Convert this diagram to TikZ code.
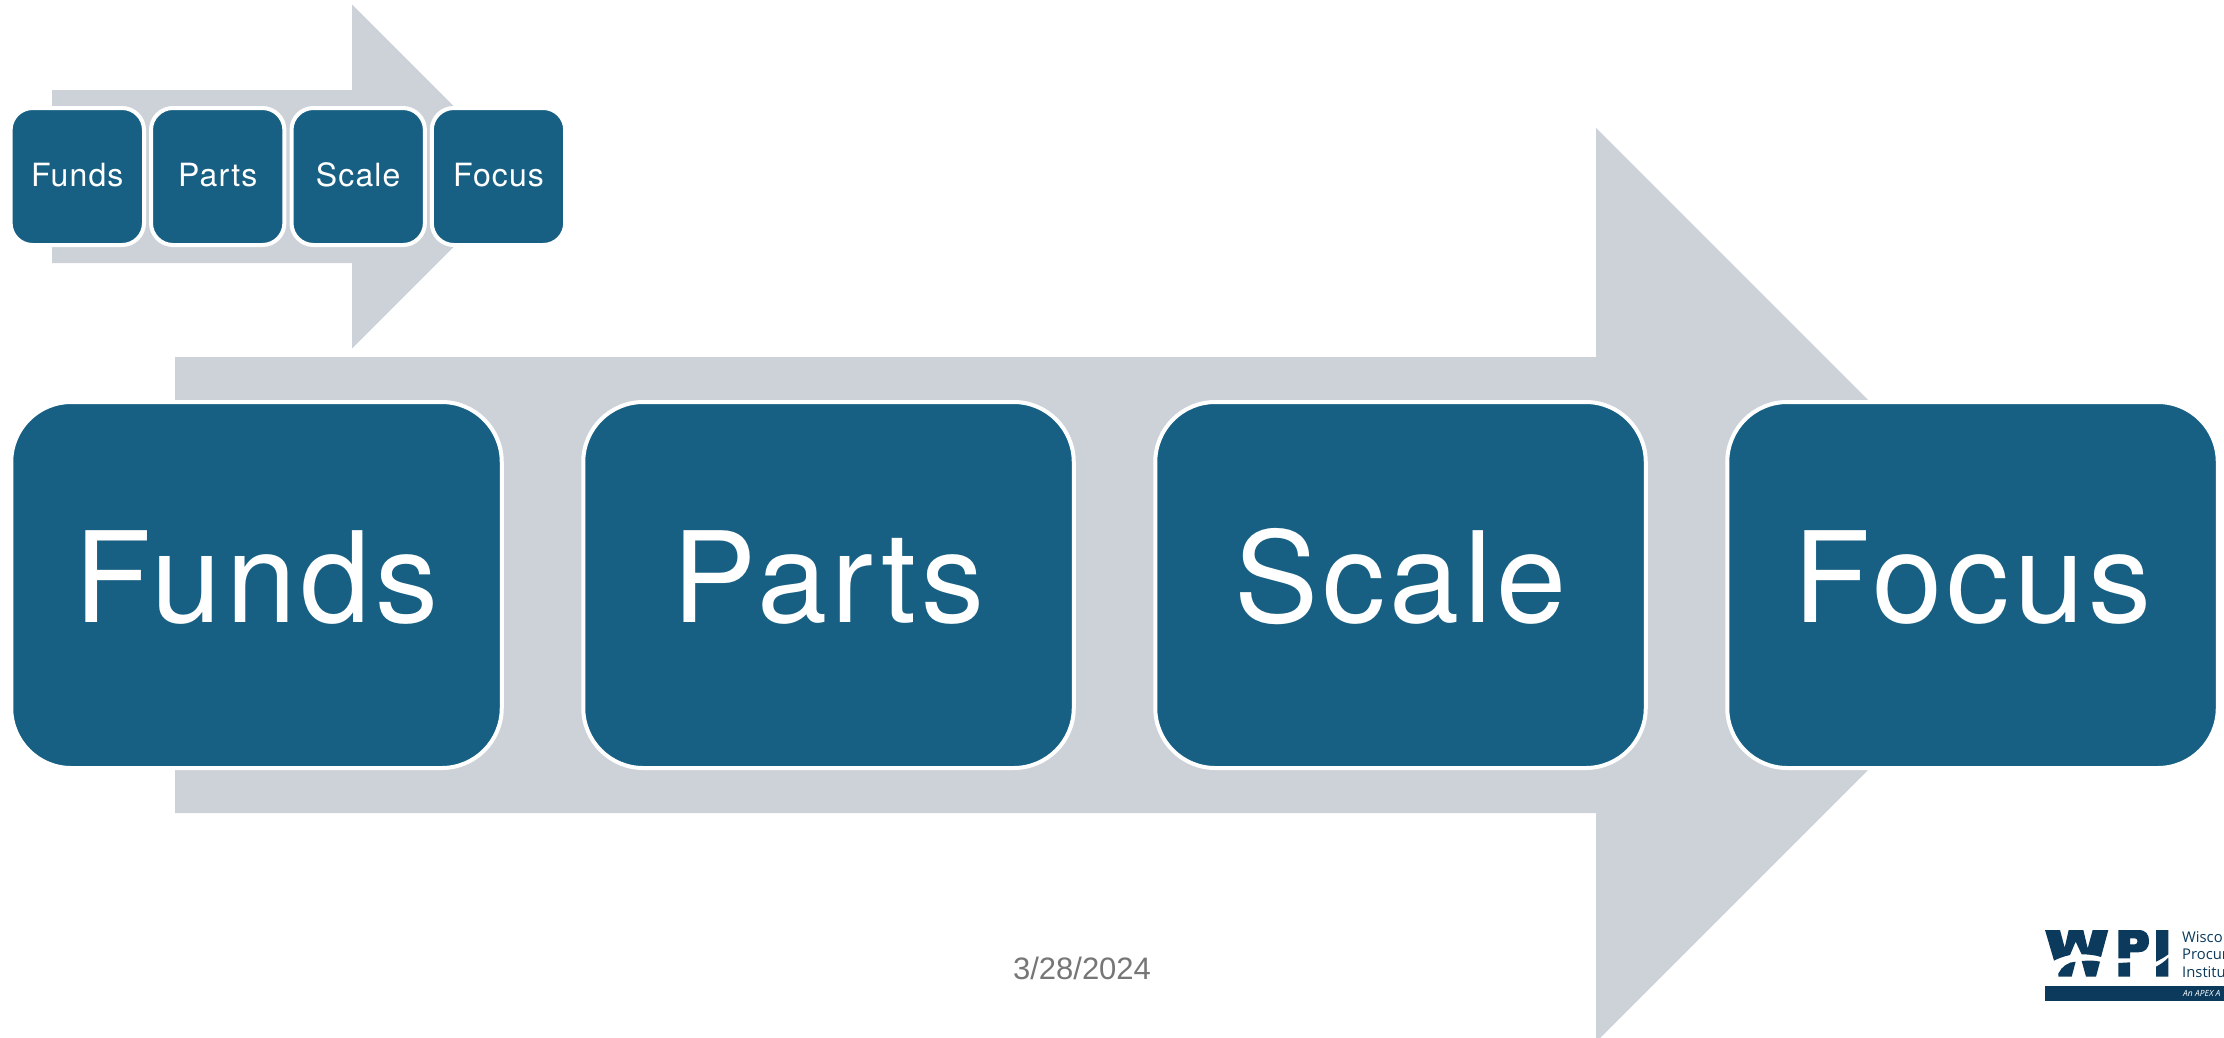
\documentclass[tikz,border=0pt]{standalone}
\usepackage{fontspec}
\setmainfont[LetterSpace=3.5]{TeX Gyre Heros}
\newfontfamily\datefont{Liberation Sans}
\newfontfamily\logofont{Open Sans}
\definecolor{arrowgrey}{RGB}{205,210,216}
\definecolor{boxblue}{RGB}{23,96,131}
\definecolor{logoblue}{RGB}{11,58,92}
\definecolor{dategrey}{RGB}{118,118,118}
\tikzset{
  bgarrow/.style={fill=arrowgrey,draw=none},
  bigbox/.style={rectangle,rounded corners=60pt,fill=boxblue,draw=white,line width=4pt,
    minimum width=490.5pt,minimum height=366pt,inner sep=0pt,text=white,
    font=\fontsize{126}{126}\selectfont,text height=75.4pt,text depth=0pt,align=center},
  smallbox/.style={rectangle,rounded corners=22pt,fill=boxblue,draw=white,line width=4pt,
    minimum width=133.4pt,minimum height=137pt,inner sep=0pt,text=white,
    font=\fontsize{32}{32}\selectfont,text height=19pt,text depth=0pt,align=center},
  logofill/.style={fill=logoblue,draw=none},
  logotext/.style={anchor=base west,inner sep=0pt,text=logoblue,font=\logofont\fontsize{14.8}{14.8}\selectfont},
}
\begin{document}
\begin{tikzpicture}[x=1pt,y=-1pt]
\useasboundingbox (0,0) rectangle (2224,1037);
\clip (0,0) rectangle (2224,1037);
% big arrow
\fill[bgarrow] (175,357) -- (1596,357) -- (1596,128) -- (2053,585) -- (1596,1042) -- (1596,813) -- (175,813) -- cycle;
% small arrow
\fill[bgarrow] (52,90) -- (352,90) -- (352,4.5) -- (524,176.5) -- (352,348.5) -- (352,263) -- (52,263) -- cycle;
% big boxes
\node[bigbox] (funds) at (256.5,585) {Funds};
\node[bigbox] (parts) at (828.5,585) {Parts};
\node[bigbox] (scale) at (1400.5,585) {Scale};
\node[bigbox] (focus) at (1972.5,585) {Focus};
% small boxes
\node[smallbox] (sfunds) at (77.3,176.5) {Funds};
\node[smallbox] (sparts) at (217.7,176.5) {Parts};
\node[smallbox] (sscale) at (358.2,176.5) {Scale};
\node[smallbox] (sfocus) at (498.5,176.5) {Focus};
% date
\node[anchor=base,inner sep=0pt,text=dategrey,font=\datefont\fontsize{31}{31}\selectfont] (date) at (1082,979) {3/28/2024};
% logo
\begin{scope}[shift={(2040,925)},x=0.3333pt,y=-0.3333pt]
  \fill[logofill] (15,15) -- (60,15) -- (74,68) -- (86,15) -- (130,15) -- (143,70) -- (158,15) -- (205,15)
     -- (183,96) .. controls (165,90) and (145,88) .. (125,88) -- (107,50) -- (90,90) .. controls (72,94) and (55,100) .. (42,107) -- cycle;
  \fill[logofill] (55,155) -- (95,155) -- (107,110) .. controls (85,110) and (65,125) .. (55,145) -- cycle;
  \fill[logofill] (125,108) .. controls (145,106) and (165,106) .. (180,110) -- (168,155) -- (138,155) -- cycle;
  \fill[logofill,even odd rule] (235,15) -- (295,15) .. controls (318,15) and (327,28) .. (327,48) .. controls (327,70) and (315,82) .. (295,82) -- (270,82) -- (270,100) -- (235,100) -- cycle
     (270,40) -- (270,58) -- (285,58) .. controls (295,58) and (295,40) .. (285,40) -- cycle;
  \fill[logofill] (235,114) -- (270,112) -- (270,155) -- (235,155) -- cycle;
  \fill[logofill] (348,15) -- (385,15) -- (385,88) .. controls (372,98) and (360,104) .. (348,110) -- cycle;
  \fill[logofill] (348,125) .. controls (362,118) and (375,108) .. (385,98) -- (385,155) -- (348,155) -- cycle;
\end{scope}
\fill[logofill] (2045,986) rectangle (2224,1001);
\node[logotext] (l1) at (2182,942.7) {Wisco};
\node[logotext] (l2) at (2182,959.7) {Procur};
\node[logotext] (l3) at (2182,977) {Institu};
\node[anchor=base west,inner sep=0pt,text=white,font=\logofont\itshape\fontsize{8.5}{8.5}\selectfont] (l4) at (2183,996.5) {An APEX A};
\end{tikzpicture}
\end{document}
